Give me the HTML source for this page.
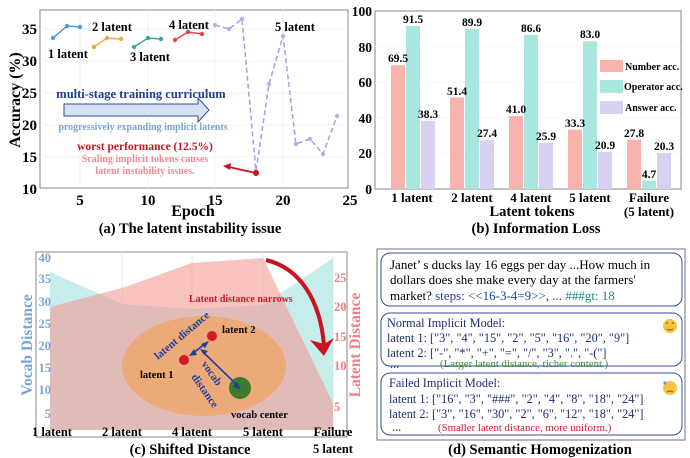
<!DOCTYPE html>
<html><head><meta charset="utf-8"><style>
html,body{margin:0;padding:0;background:#fff;}
svg{display:block;font-family:"Liberation Serif",serif;}
.b{font-weight:bold;}
</style></head><body>
<svg width="690" height="458" viewBox="0 0 690 458" xmlns="http://www.w3.org/2000/svg">
<!-- (a) -->
<g>
<rect x="40" y="10" width="308" height="178" fill="#fff" stroke="#999" stroke-width="1.2"/>
<g stroke="#eee" stroke-width="0.8">
<line x1="40" y1="29" x2="348" y2="29"/><line x1="40" y1="61" x2="348" y2="61"/><line x1="40" y1="93" x2="348" y2="93"/><line x1="40" y1="125" x2="348" y2="125"/><line x1="40" y1="157" x2="348" y2="157"/>
<line x1="80" y1="10" x2="80" y2="188"/><line x1="148" y1="10" x2="148" y2="188"/><line x1="215" y1="10" x2="215" y2="188"/><line x1="283" y1="10" x2="283" y2="188"/>
</g>
<g class="b" font-size="15" text-anchor="end">
<text x="37" y="34">35</text><text x="37" y="66">30</text><text x="37" y="98">25</text><text x="37" y="130">20</text><text x="37" y="162">15</text><text x="37" y="194">10</text>
</g>
<g class="b" font-size="15" text-anchor="middle">
<text x="80" y="205">5</text><text x="148" y="205">10</text><text x="215" y="205">15</text><text x="283" y="205">20</text><text x="350" y="205">25</text>
</g>
<text x="193" y="216" class="b" font-size="16" text-anchor="middle">Epoch</text>
<text transform="translate(20,100) rotate(-90)" class="b" font-size="16" text-anchor="middle">Accuracy (%)</text>
<polyline points="53,38 67,26 80,27" fill="none" stroke="#4a9de0" stroke-width="1.5"/>
<g fill="#4a9de0"><circle cx="53" cy="38" r="2.2"/><circle cx="67" cy="26" r="2.2"/><circle cx="80" cy="27" r="2.2"/></g>
<polyline points="94,47 107,38 121,39" fill="none" stroke="#f5a54a" stroke-width="1.5"/>
<g fill="#f5a54a"><circle cx="94" cy="47" r="2.2"/><circle cx="107" cy="38" r="2.2"/><circle cx="121" cy="39" r="2.2"/></g>
<polyline points="134,47 148,38 161,39" fill="none" stroke="#3aa79a" stroke-width="1.5"/>
<g fill="#3aa79a"><circle cx="134" cy="47" r="2.2"/><circle cx="148" cy="38" r="2.2"/><circle cx="161" cy="39" r="2.2"/></g>
<polyline points="175,40 188,32 202,34" fill="none" stroke="#e8454a" stroke-width="1.5"/>
<g fill="#e8454a"><circle cx="175" cy="40" r="2.2"/><circle cx="188" cy="32" r="2.2"/><circle cx="202" cy="34" r="2.2"/></g>
<polyline points="215,25 229,29 242,19 256,171 269,84 283,36 296,144 310,139 323,154 337,116" fill="none" stroke="#a89ce8" stroke-width="1.5" stroke-dasharray="5,3"/>
<g fill="#b8aeee"><circle cx="215" cy="25" r="2.2"/><circle cx="229" cy="29" r="2.2"/><circle cx="242" cy="19" r="2.2"/><circle cx="256" cy="171" r="2.2"/><circle cx="269" cy="84" r="2.2"/><circle cx="283" cy="36" r="2.2"/><circle cx="296" cy="144" r="2.2"/><circle cx="310" cy="139" r="2.2"/><circle cx="323" cy="154" r="2.2"/><circle cx="337" cy="116" r="2.2"/></g>
<circle cx="256" cy="173" r="3" fill="#c8141e"/>
<line x1="256" y1="173" x2="229" y2="167" stroke="#c8141e" stroke-width="1.8"/>
<polygon points="223,166 231,163 230,170" fill="#c8141e"/>
<g class="b" font-size="12.5">
<text x="48" y="58">1 latent</text><text x="92" y="31">2 latent</text><text x="130" y="61">3 latent</text><text x="169" y="29">4 latent</text><text x="275" y="31">5 latent</text>
</g>
<text x="141" y="98" class="b" font-size="12.5" fill="#1f3f8f" text-anchor="middle">multi-stage training curriculum</text>
<path d="M64,104 H198 V98 L209,110 L198,122 V116 H64 Z" fill="#d4e2f4" stroke="#2f4f8f" stroke-width="1"/>
<text x="143" y="130" class="b" font-size="10" fill="#7aa3dc" text-anchor="middle">progressively expanding implicit latents</text>
<text x="145" y="150" class="b" font-size="11.5" fill="#c8141e" text-anchor="middle">worst performance (12.5%)</text>
<text x="145" y="162" class="b" font-size="10" fill="#f08a92" text-anchor="middle">Scaling implicit tokens causes</text>
<text x="145" y="174" class="b" font-size="10" fill="#f08a92" text-anchor="middle">latent instability issues.</text>
<text x="190" y="233" class="b" font-size="14.5" text-anchor="middle">(a) The latent instability issue</text>
</g>
<!-- (b) -->
<g>
<rect x="375" y="11" width="306" height="178" fill="#fff" stroke="#999" stroke-width="1.2"/>
<g stroke="#eee" stroke-width="0.8" stroke-dasharray="2,2">
<line x1="375" y1="46.6" x2="681" y2="46.6"/><line x1="375" y1="82.2" x2="681" y2="82.2"/><line x1="375" y1="117.8" x2="681" y2="117.8"/><line x1="375" y1="153.4" x2="681" y2="153.4"/>
</g>
<g class="b" font-size="13.5" text-anchor="end">
<text x="372" y="16">100</text><text x="372" y="52">80</text><text x="372" y="87">60</text><text x="372" y="123">40</text><text x="372" y="158">20</text><text x="372" y="194">0</text>
</g>
<g fill="#f9b3ad">
<rect x="391" y="65.3" width="14" height="123.7"/><rect x="450" y="97.5" width="14" height="91.5"/><rect x="509" y="116" width="14" height="73"/><rect x="568" y="129.7" width="14" height="59.3"/><rect x="627" y="139.5" width="14" height="49.5"/>
</g>
<g fill="#a8e6e0">
<rect x="406" y="26.1" width="14" height="162.9"/><rect x="465" y="29" width="14" height="160"/><rect x="524" y="34.9" width="14" height="154.1"/><rect x="583" y="41.3" width="14" height="147.7"/><rect x="642" y="180.6" width="14" height="8.4"/>
</g>
<g fill="#d8d0f0">
<rect x="421" y="120.8" width="14" height="68.2"/><rect x="480" y="140.2" width="14" height="48.8"/><rect x="539" y="142.9" width="14" height="46.1"/><rect x="598" y="151.8" width="14" height="37.2"/><rect x="657" y="152.9" width="14" height="36.1"/>
</g>
<g class="b" font-size="11.5" text-anchor="middle">
<text x="398" y="62">69.5</text><text x="413" y="23">91.5</text><text x="428" y="118">38.3</text>
<text x="457" y="95">51.4</text><text x="472" y="26">89.9</text><text x="487" y="137">27.4</text>
<text x="516" y="113">41.0</text><text x="531" y="32">86.6</text><text x="546" y="140">25.9</text>
<text x="575" y="127">33.3</text><text x="590" y="38">83.0</text><text x="605" y="149">20.9</text>
<text x="634" y="137">27.8</text><text x="649" y="178">4.7</text><text x="664" y="150">20.3</text>
</g>
<rect x="600" y="60" width="23" height="12" fill="#f9b3ad"/><rect x="600" y="80" width="23" height="13" fill="#a8e6e0"/><rect x="600" y="101" width="23" height="13" fill="#d8d0f0"/>
<g class="b" font-size="10">
<text x="625" y="70">Number acc.</text><text x="624" y="90">Operator acc.</text><text x="625" y="111">Answer acc.</text>
</g>
<g class="b" font-size="13" text-anchor="middle">
<text x="412" y="202">1 latent</text><text x="472" y="202">2 latent</text><text x="531" y="202">4 latent</text><text x="590" y="202">5 latent</text><text x="649" y="202">Failure</text><text x="649" y="216">(5 latent)</text>
</g>
<text x="532" y="216" class="b" font-size="14.5" text-anchor="middle">Latent tokens</text>
<text x="536" y="233" class="b" font-size="14.5" text-anchor="middle">(b) Information Loss</text>
</g>
<!-- (c) -->
<g>
<rect x="36" y="252" width="311" height="185" fill="#fff" stroke="#999" stroke-width="1.2"/>
<g stroke="#e6e6e6" stroke-width="0.8">
<line x1="122" y1="252" x2="122" y2="437"/><line x1="192" y1="252" x2="192" y2="437"/><line x1="263" y1="252" x2="263" y2="437"/><line x1="333" y1="252" x2="333" y2="437"/>
</g>
<polygon points="50,272 122,304 192,309 263,305 333,258 333,430 50,430" fill="#a8e2e2" opacity="0.65"/>
<polygon points="50,307 122,288 192,263 263,258 333,403 333,430 50,430" fill="#f39b95" opacity="0.6"/>
<ellipse cx="204" cy="366" rx="82" ry="50" fill="#eea872" opacity="0.9"/>
<circle cx="240" cy="388" r="11" fill="#3c7a2d"/>
<circle cx="184" cy="360" r="5" fill="#d01a2a"/><circle cx="212" cy="336" r="5" fill="#d01a2a"/>
<g stroke="#1f3f9f" stroke-width="1.6" fill="#1f3f9f">
<line x1="192" y1="354" x2="206" y2="343"/>
<line x1="202" y1="351" x2="238" y2="386"/>
</g>
<g fill="#1f3f9f">
<polygon points="189,356 194,349 197,355"/><polygon points="209,341 201,344 205,348"/>
<polygon points="200,349 208,351 204,355"/><polygon points="241,389 233,387 237,382"/>
</g>
<text transform="translate(158,360) rotate(-40)" class="b" font-size="11" fill="#1f3f9f">latent distance</text>
<text transform="translate(201,364) rotate(55)" class="b" font-size="11" fill="#1f3f9f">vocab</text>
<text transform="translate(191,377) rotate(55)" class="b" font-size="11" fill="#1f3f9f">distance</text>
<g class="b" font-size="10.5">
<text x="222" y="333">latent 2</text><text x="140" y="378">latent 1</text><text x="231" y="418">vocab center</text>
</g>
<text x="189" y="302" class="b" font-size="10" fill="#d01a2a">Latent distance narrows</text>
<path d="M266,260 C300,268 320,300 324,345" fill="none" stroke="#c8141e" stroke-width="4"/>
<polygon points="310,340 324,356 334,338 324,344" fill="#c8141e"/>
<g class="b" font-size="12.5" fill="#7aa3dc" text-anchor="end">
<text x="51" y="262">40</text><text x="51" y="283">35</text><text x="51" y="306">30</text><text x="51" y="328">25</text><text x="51" y="350">20</text><text x="51" y="372">15</text><text x="51" y="394">10</text><text x="51" y="418">5</text>
</g>
<g class="b" font-size="12.5" fill="#f47d80">
<text x="334" y="282">25</text><text x="334" y="311">20</text><text x="334" y="341">15</text><text x="334" y="370">10</text><text x="334" y="411">5</text>
</g>
<text transform="translate(32,345) rotate(-90)" class="b" font-size="15.5" fill="#7aa3dc" text-anchor="middle">Vocab Distance</text>
<text transform="translate(360,345) rotate(-90)" class="b" font-size="15.5" fill="#f47d80" text-anchor="middle">Latent Distance</text>
<g class="b" font-size="12.5" text-anchor="middle">
<text x="52" y="436">1 latent</text><text x="122" y="436">2 latent</text><text x="192" y="436">4 latent</text><text x="263" y="436">5 latent</text><text x="333" y="436">Failure</text><text x="333" y="453">5 latent</text>
</g>
<text x="190" y="454" class="b" font-size="14.5" text-anchor="middle">(c) Shifted Distance</text>
</g>
<!-- (d) -->
<g>
<rect x="377" y="249" width="308" height="191" fill="#fff" stroke="#888" stroke-width="1.2"/>
<rect x="381" y="253" width="301" height="53" rx="9" fill="#fff" stroke="#2f4f9f" stroke-width="1"/>
<rect x="381" y="313" width="301" height="53" rx="9" fill="#fff" stroke="#2f4f9f" stroke-width="1"/>
<rect x="381" y="373" width="301" height="62" rx="9" fill="#fff" stroke="#2f4f9f" stroke-width="1"/>
<g font-size="13">
<text x="390" y="269">Janet’ s ducks lay 16 eggs per day ...How much in</text>
<text x="390" y="284">dollars does she make every day at the farmers'</text>
<text x="390" y="300">market? <tspan fill="#1f3f9f">steps: &lt;&lt;16-3-4=9&gt;&gt;, ...</tspan> <tspan fill="#1a8a8a">###gt: 18</tspan></text>
</g>
<g font-size="12.3" fill="#1f2f6f">
<text x="387" y="327">Normal Implicit Model:</text>
<text x="387" y="342">latent 1: ["3", "4", "15", "2", "5", "16", "20", "9"]</text>
<text x="387" y="357">latent 2: ["-", "*", "+", "=", "/", "3", ".", "-("]</text>
<text x="390" y="368">...</text>
<text x="389" y="387">Failed Implicit Model:</text>
<text x="389" y="403">latent 1: ["16", "3", "###", "2", "4", "8", "18", "24"]</text>
<text x="389" y="418">latent 2: ["3", "16", "30", "2", "6", "12", "18", "24"]</text>
<text x="392" y="431">...</text>
</g>
<text x="440" y="367" font-size="10.8" fill="#3a8a2a">(Larger latent distance, richer content.)</text>
<text x="438" y="431" font-size="10.8" fill="#d01a2a">(Smaller latent distance, more uniform.)</text>
<circle cx="670" cy="326" r="7" fill="#f5c242"/><path d="M667,329 q3,2 6,0" stroke="#8a5a00" fill="none"/>
<circle cx="667" cy="323" r="0.9" fill="#8a5a00"/><circle cx="673" cy="323" r="0.9" fill="#8a5a00"/>
<circle cx="670" cy="388" r="7" fill="#f5c242"/><path d="M667,392 q3,-2 6,0" stroke="#8a5a00" fill="none"/>
<circle cx="665" cy="383" r="1.6" fill="#5aa0e0"/>
<text x="540" y="454" class="b" font-size="14.5" text-anchor="middle">(d) Semantic Homogenization</text>
</g>
</svg>
</body></html>
